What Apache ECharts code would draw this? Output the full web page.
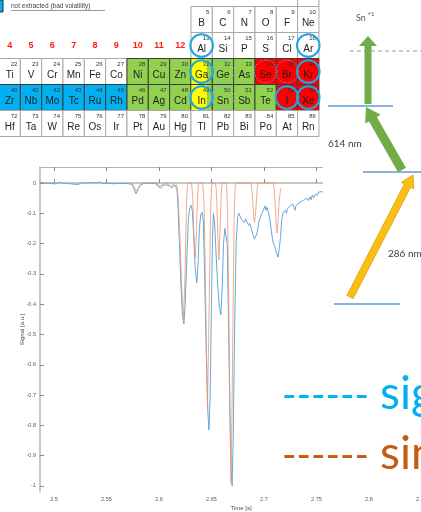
<!DOCTYPE html>
<html>
<head>
<meta charset="utf-8">
<script src="https://cdn.jsdelivr.net/npm/echarts@6/dist/echarts.min.js"></script>
<style>
  html, body { margin: 0; padding: 0; background: #fff; }
  #chart { width: 421px; height: 512px; }
</style>
</head>
<body>
<div id="chart"></div>
<script>
// ---- measured ion signal (time in s, signal in a.u.) ----
const signalTime = [
  2.4870,2.4885,2.4900,2.4915,2.4930,2.4945,2.4960,2.4975,2.4990,2.5005,
  2.5020,2.5035,2.5050,2.5065,2.5080,2.5095,2.5110,2.5125,2.5140,2.5155,
  2.5170,2.5185,2.5200,2.5215,2.5230,2.5245,2.5260,2.5275,2.5290,2.5305,
  2.5320,2.5335,2.5350,2.5365,2.5380,2.5395,2.5410,2.5425,2.5440,2.5455,
  2.5470,2.5485,2.5500,2.5515,2.5530,2.5545,2.5560,2.5575,2.5590,2.5605,
  2.5620,2.5635,2.5650,2.5665,2.5680,2.5695,2.5710,2.5725,2.5740,2.5755,
  2.5770,2.5781,2.5792,2.5805,2.5820,2.5835,2.5850,2.5865,2.5880,2.5895,
  2.5910,2.5925,2.5940,2.5955,2.5970,2.5985,2.6000,2.6010,2.6020,2.6035,
  2.6050,2.6065,2.6080,2.6095,2.6110,2.6124,2.6135,2.6150,2.6162,2.6172,
  2.6182,2.6195,2.6210,2.6225,2.6238,2.6250,2.6265,2.6280,2.6295,2.6305,
  2.6318,2.6330,2.6345,2.6360,2.6372,2.6385,2.6398,2.6410,2.6422,2.6435,
  2.6450,2.6465,2.6476,2.6488,2.6500,2.6510,2.6519,2.6530,2.6545,2.6560,
  2.6575,2.6590,2.6602,2.6615,2.6628,2.6638,2.6650,2.6662,2.6675,2.6688,
  2.6697,2.6707,2.6720,2.6735,2.6750,2.6762,2.6771,2.6785,2.6800,2.6815,
  2.6825,2.6840,2.6855,2.6865,2.6880,2.6895,2.6910,2.6922,2.6935,2.6950,
  2.6965,2.6980,2.6990,2.7000,2.7010,2.7020,2.7030,2.7045,2.7060,2.7075,
  2.7090,2.7105,2.7120,2.7135,2.7145,2.7158,2.7170,2.7181,2.7192,2.7205,
  2.7215,2.7225,2.7240,2.7250,2.7262,2.7275,2.7285,2.7295,2.7305,2.7320,
  2.7335,2.7345,2.7360,2.7372,2.7385,2.7398,2.7410,2.7425,2.7440,2.7450,
  2.7462,2.7475,2.7490,2.7500,2.7510,2.7522,2.7535,2.7548,2.7562
];
const signalValue = [
  0.002,-0.001,0.001,-0.003,0.000,-0.004,-0.001,-0.005,-0.002,0.001,
  -0.003,-0.001,0.002,-0.002,0.000,-0.004,-0.001,0.002,-0.002,0.001,
  -0.003,-0.001,-0.004,-0.002,-0.005,-0.002,0.000,-0.003,0.001,-0.002,
  0.000,-0.003,0.001,-0.001,0.002,-0.002,0.001,-0.001,0.003,0.000,
  -0.002,0.001,-0.001,0.002,-0.001,0.001,-0.002,0.000,-0.002,0.001,
  -0.001,0.001,-0.002,0.000,-0.001,0.001,-0.002,-0.001,-0.004,-0.012,
  -0.026,-0.036,-0.030,-0.018,-0.008,-0.004,-0.002,-0.003,-0.001,-0.002,
  0.000,-0.002,-0.001,-0.003,-0.002,-0.006,-0.014,-0.020,-0.016,-0.008,
  -0.004,-0.006,-0.003,-0.008,-0.013,-0.016,-0.010,-0.006,-0.004,-0.020,
  -0.080,-0.200,-0.340,-0.440,-0.465,-0.400,-0.250,-0.120,-0.080,-0.073,
  -0.090,-0.170,-0.280,-0.330,-0.270,-0.150,-0.105,-0.096,-0.120,-0.300,
  -0.550,-0.750,-0.815,-0.700,-0.400,-0.180,-0.100,-0.130,-0.240,-0.340,
  -0.410,-0.435,-0.350,-0.200,-0.150,-0.145,-0.200,-0.450,-0.750,-0.950,
  -1.000,-0.850,-0.500,-0.200,-0.110,-0.100,-0.096,-0.120,-0.125,-0.130,
  -0.118,-0.130,-0.140,-0.133,-0.150,-0.170,-0.185,-0.188,-0.165,-0.130,
  -0.115,-0.100,-0.105,-0.085,-0.075,-0.090,-0.080,-0.100,-0.130,-0.170,
  -0.200,-0.210,-0.230,-0.245,-0.240,-0.180,-0.120,-0.100,-0.095,-0.090,
  -0.100,-0.085,-0.082,-0.075,-0.078,-0.070,-0.080,-0.090,-0.075,-0.072,
  -0.065,-0.070,-0.060,-0.064,-0.055,-0.060,-0.050,-0.058,-0.045,-0.055,
  -0.040,-0.048,-0.038,-0.032,-0.040,-0.030,-0.036,-0.028,-0.030
];

// ---- simulated signal ----
const simTime = [
  2.5720,2.5750,2.5770,2.5785,2.5800,2.5820,2.5850,2.5980,2.6000,2.6010,
  2.6030,2.6060,2.6090,2.6110,2.6125,2.6140,2.6160,
  2.6172,2.6185,2.6200,2.6215,2.6233,2.6247,2.6257,2.6265,2.6272,2.6280,2.6305,
  2.6313,2.6322,2.6333,2.6345,2.6357,2.6367,2.6375,2.6383,2.6412,
  2.6420,2.6430,2.6442,2.6452,2.6462,2.6473,2.6484,2.6494,2.6502,2.6510,2.6535,
  2.6543,2.6551,2.6561,2.6571,2.6581,2.6591,2.6599,2.6607,2.6637,
  2.6645,2.6654,2.6665,2.6676,2.6686,2.6697,2.6708,2.6718,2.6726,2.6734,2.6872,
  2.6882,2.6893,2.6902,2.6910,2.6918,2.6928,2.6938,2.6948,2.7088,
  2.7097,2.7107,2.7116,2.7124,2.7133,2.7145,2.7155,2.7162
];
const simValue = [
  0,-0.004,-0.018,-0.026,-0.018,-0.005,0,0,-0.010,-0.016,
  -0.006,0,-0.004,-0.010,-0.012,-0.005,0,
  -0.010,-0.060,-0.180,-0.330,-0.455,-0.320,-0.150,-0.040,-0.008,0,0,
  -0.008,-0.050,-0.170,-0.248,-0.170,-0.050,-0.008,0,0,
  -0.010,-0.080,-0.300,-0.550,-0.750,-0.520,-0.270,-0.070,-0.010,0,0,
  -0.010,-0.060,-0.180,-0.254,-0.170,-0.050,-0.008,0,0,
  -0.010,-0.100,-0.400,-0.750,-0.990,-0.720,-0.350,-0.080,-0.010,0,0,
  -0.010,-0.060,-0.110,-0.130,-0.110,-0.060,-0.010,0,0,
  -0.015,-0.070,-0.140,-0.165,-0.130,-0.060,-0.030,-0.018
];

// ---- axis ticks ----
const timeTicks = [2.5, 2.55, 2.6, 2.65, 2.7, 2.75, 2.8, 2.85];
const signalTicks = [-1, -0.9, -0.8, -0.7, -0.6, -0.5, -0.4, -0.3, -0.2, -0.1, 0];

// ---- periodic table excerpt (groups 4..18) ----
const groupNumbers = ['4', '5', '6', '7', '8', '9', '10', '11', '12'];
const period1Sym = ['He'];            const period1Num = [2];
const period2Sym = ['B', 'C', 'N', 'O', 'F', 'Ne'];
const period2Num = [5, 6, 7, 8, 9, 10];
const period3Sym = ['Al', 'Si', 'P', 'S', 'Cl', 'Ar'];
const period3Num = [13, 14, 15, 16, 17, 18];
const period4Sym = ['Ti', 'V', 'Cr', 'Mn', 'Fe', 'Co', 'Ni', 'Cu', 'Zn', 'Ga', 'Ge', 'As', 'Se', 'Br', 'Kr'];
const period4Num = [22, 23, 24, 25, 26, 27, 28, 29, 30, 31, 32, 33, 34, 35, 36];
const period4Fill = 'WWWWWWGGGYGGRRR';
const period5Sym = ['Zr', 'Nb', 'Mo', 'Tc', 'Ru', 'Rh', 'Pd', 'Ag', 'Cd', 'In', 'Sn', 'Sb', 'Te', 'I', 'Xe'];
const period5Num = [40, 41, 42, 43, 44, 45, 46, 47, 48, 49, 50, 51, 52, 53, 54];
const period5Fill = 'BBBBBBGGGYGGGRR';
const period6Sym = ['Hf', 'Ta', 'W', 'Re', 'Os', 'Ir', 'Pt', 'Au', 'Hg', 'Tl', 'Pb', 'Bi', 'Po', 'At', 'Rn'];
const period6Num = [72, 73, 74, 75, 76, 77, 78, 79, 80, 81, 82, 83, 84, 85, 86];
const ringedSolid = ['Al', 'Ar', 'Ga', 'Kr', 'In', 'I', 'Xe'];
const ringedDashed = ['Ge', 'Se', 'Br', 'Sn'];

const fillColors = { W: '#ffffff', G: '#92d050', Y: '#ffff00', R: '#ff0000', B: '#00b0f0' };

const cellW = 21.33, cellH = 26;
const colX = c => -1 + c * cellW;
const tableFont = '"Liberation Sans", Arial, sans-serif';
const graphics = [];

function addRow(syms, nums, fills, startCol, top) {
  const cells = syms.map((s, i) => ({ s, n: nums[i], f: fills ? fills[i] : 'W', c: startCol + i }));
  // white cells first, coloured cells on top so their darker borders win
  cells.sort((a, b) => (a.f === 'W' ? 0 : 1) - (b.f === 'W' ? 0 : 1));
  cells.forEach(({ s, n, f, c }) => {
    const x = colX(c);
    const coloured = f !== 'W';
    graphics.push({
      type: 'rect', z: 10,
      shape: { x, y: top, width: cellW, height: cellH },
      style: { fill: f === 'Y' ? fillColors.G : fillColors[f], stroke: coloured ? '#3c3c3c' : '#a8a8a8', lineWidth: 1 }
    });
    if (f === 'Y') {
      graphics.push({
        type: 'rect', z: 11,
        shape: { x: x + 0.5, y: top + 0.5, width: cellW * 0.72, height: cellH - 1 },
        style: { fill: fillColors.Y }
      });
    }
    graphics.push({
      type: 'text', z: 12,
      style: { text: String(n), x: x + cellW - 3, y: top + 6, align: 'right', verticalAlign: 'middle',
               font: '6px ' + tableFont, fill: '#333' }
    });
    graphics.push({
      type: 'text', z: 12,
      style: { text: s, x: x + cellW / 2, y: top + 17, align: 'center', verticalAlign: 'middle',
               font: '10px ' + tableFont, fill: '#1e1e1e' }
    });
    if (ringedSolid.includes(s) || ringedDashed.includes(s)) {
      const solid = ringedSolid.includes(s);
      graphics.push({
        type: 'circle', z: 13,
        shape: { cx: x + cellW / 2, cy: top + cellH / 2, r: 11.3 },
        style: solid ? { fill: 'none', stroke: '#1ea5e4', lineWidth: 2 }
                     : { fill: 'none', stroke: '#55b8e4', lineWidth: 0.9, lineDash: [1.5, 1.5] }
      });
    }
  });
}

addRow(period1Sym, period1Num, null, 14, 6.5 - cellH);
addRow(period2Sym, period2Num, null, 9, 6.5);
addRow(period3Sym, period3Num, null, 9, 32.5);
addRow(period4Sym, period4Num, period4Fill, 0, 58.5);
addRow(period5Sym, period5Num, period5Fill, 0, 84.5);
addRow(period6Sym, period6Num, null, 0, 110.5);

groupNumbers.forEach((g, i) => {
  graphics.push({
    type: 'text', z: 12,
    style: { text: g, x: colX(i) + cellW / 2, y: 46, align: 'center', verticalAlign: 'middle',
             font: 'bold 9px ' + tableFont, fill: '#ff1a1a' }
  });
});

// key for the blue cells
graphics.push(
  { type: 'rect', z: 12, shape: { x: -10, y: 0, width: 13, height: 12 },
    style: { fill: '#00b0f0', stroke: '#2b2b2b', lineWidth: 1 } },
  { type: 'text', z: 12,
    style: { text: 'not extracted (bad volatility)', x: 11, y: 6.5, align: 'left', verticalAlign: 'middle',
             font: '6.5px ' + tableFont, fill: '#454545' } },
  { type: 'line', z: 12, shape: { x1: 11, y1: 10.5, x2: 105, y2: 10.5 },
    style: { stroke: '#6a6a6a', lineWidth: 0.7 } }
);

// ---- ionisation scheme ----
function arrowPoints(x1, y1, x2, y2, sw, hw, hl) {
  const L = Math.hypot(x2 - x1, y2 - y1);
  const ux = (x2 - x1) / L, uy = (y2 - y1) / L, px = -uy, py = ux;
  const bx = x2 - ux * hl, by = y2 - uy * hl;
  return [
    [x1 + px * sw / 2, y1 + py * sw / 2], [bx + px * sw / 2, by + py * sw / 2],
    [bx + px * hw / 2, by + py * hw / 2], [x2, y2],
    [bx - px * hw / 2, by - py * hw / 2], [bx - px * sw / 2, by - py * sw / 2],
    [x1 - px * sw / 2, y1 - py * sw / 2]
  ];
}
const schemeFont = 'Lato, "Open Sans", sans-serif';
graphics.push(
  { type: 'rect', z: 50, shape: { x: 323, y: 0, width: 100, height: 325 }, style: { fill: '#ffffff' } },
  { type: 'text', z: 60, style: { text: 'Sn', x: 356, y: 18, align: 'left', verticalAlign: 'middle',
      font: '9px ' + schemeFont, fill: '#595959' } },
  { type: 'text', z: 60, style: { text: '+1', x: 367.5, y: 14, align: 'left', verticalAlign: 'middle',
      font: '6px ' + schemeFont, fill: '#595959' } },
  { type: 'line', z: 60, shape: { x1: 350, y1: 51, x2: 421, y2: 51 },
    style: { stroke: '#7f9fc0', lineWidth: 1, lineDash: [4, 3] } },
  { type: 'line', z: 60, shape: { x1: 328, y1: 106, x2: 393, y2: 106 }, style: { stroke: '#5b9bd5', lineWidth: 1.5 } },
  { type: 'line', z: 60, shape: { x1: 363, y1: 172, x2: 421, y2: 172 }, style: { stroke: '#5b9bd5', lineWidth: 1.5 } },
  { type: 'line', z: 60, shape: { x1: 334, y1: 304, x2: 400, y2: 304 }, style: { stroke: '#5b9bd5', lineWidth: 1.5 } },
  { type: 'polygon', z: 61, shape: { points: arrowPoints(368, 104, 368, 36, 7, 18, 10) },
    style: { fill: '#70ad47' } },
  { type: 'polygon', z: 61, shape: { points: arrowPoints(402, 170, 366, 107, 9, 18, 14) },
    style: { fill: '#70ad47' } },
  { type: 'polygon', z: 61, shape: { points: arrowPoints(350, 297, 413, 175, 7, 14, 12) },
    style: { fill: '#fbbf14', stroke: '#dd9b0c', lineWidth: 0.8 } },
  { type: 'text', z: 60, style: { text: '614 nm', x: 328, y: 144, align: 'left', verticalAlign: 'middle',
      font: '10px ' + schemeFont, fill: '#404040' } },
  { type: 'text', z: 60, style: { text: '286 nm', x: 388, y: 254, align: 'left', verticalAlign: 'middle',
      font: '10px ' + schemeFont, fill: '#404040' } }
);

// ---- large series key ----
const keyFont = '46px ' + schemeFont;
const dashFont = '39px ' + schemeFont;
graphics.push(
  { type: 'text', z: 70, style: { text: '------', x: 282, y: 395, align: 'left', verticalAlign: 'middle', font: dashFont, fill: '#00b0f0' } },
  { type: 'text', z: 70, style: { text: 'signal', x: 380, y: 394, align: 'left', verticalAlign: 'middle', font: keyFont, fill: '#00b0f0' } },
  { type: 'text', z: 70, style: { text: '------', x: 282, y: 455, align: 'left', verticalAlign: 'middle', font: dashFont, fill: '#c55a11' } },
  { type: 'text', z: 70, style: { text: 'simulation', x: 380, y: 454, align: 'left', verticalAlign: 'middle', font: keyFont, fill: '#c55a11' } }
);

const axisGray = '#b4b4b4';
const labelStyle = { fontSize: 5.5, color: '#5a5a5a', fontFamily: tableFont };

const chart = echarts.init(document.getElementById('chart'), null, { renderer: 'canvas' });
chart.setOption({
  animation: false,
  backgroundColor: '#ffffff',
  grid: { left: 40, top: 167, width: 402, height: 325, containLabel: false, outerBoundsMode: 'none' },
  xAxis: [
    {
      type: 'value', position: 'bottom', min: 2.4867, max: 2.8696,
      axisLine: { lineStyle: { color: axisGray, width: 1.5 } },
      axisTick: { inside: true, length: 4, customValues: timeTicks, lineStyle: { color: '#8a8a8a' } },
      axisLabel: { customValues: timeTicks, margin: 4, ...labelStyle },
      splitLine: { show: false },
      name: 'Time [s]', nameLocation: 'middle', nameGap: 13, nameMoveOverlap: false,
      nameTextStyle: { fontSize: 6, color: '#4a4a4a', fontFamily: tableFont }
    },
    {
      type: 'value', position: 'top', min: 2.4867, max: 2.8696,
      axisLine: { lineStyle: { color: axisGray, width: 1 } },
      axisTick: { inside: true, length: 4, customValues: timeTicks, lineStyle: { color: '#8a8a8a' } },
      axisLabel: { show: false },
      splitLine: { show: false }
    }
  ],
  yAxis: [{
    type: 'value', min: -1.02, max: 0.053,
    axisLine: { show: true, lineStyle: { color: axisGray, width: 1.5 } },
    axisTick: { show: true, inside: true, length: 4, customValues: signalTicks, lineStyle: { color: '#8a8a8a' } },
    axisLabel: { customValues: signalTicks, margin: 4, ...labelStyle },
    splitLine: { show: false },
    name: 'Signal [a.u.]', nameLocation: 'middle', nameGap: 15, nameMoveOverlap: false,
    nameTextStyle: { fontSize: 6, color: '#4a4a4a', fontFamily: tableFont }
  }],
  graphic: { elements: graphics },
  series: [
    {
      name: 'signal', type: 'line', showSymbol: false, z: 3,
      data: signalTime.map((t, i) => [t, signalValue[i]]),
      lineStyle: { color: '#62a9de', width: 1 }
    },
    {
      name: 'simulation', type: 'line', showSymbol: false, z: 4,
      data: simTime.map((t, i) => [t, simValue[i]]),
      lineStyle: { color: '#ec9673', width: 1, opacity: 0.8 }
    }
  ]
});
</script>
</body>
</html>
